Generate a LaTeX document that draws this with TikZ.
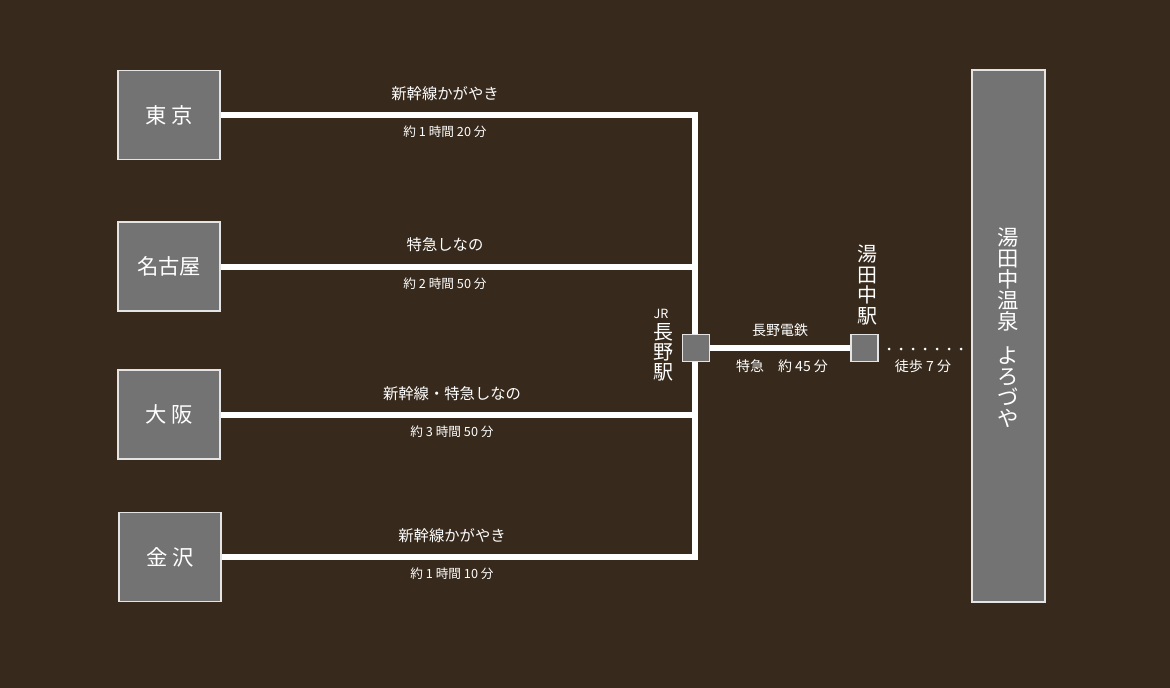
\documentclass[tikz,border=0pt]{standalone}
\usepackage{fontspec}
\setmainfont{Noto Sans CJK JP}
\usepackage{xcolor}
\usepackage{tikz}

\definecolor{bgbrown}{RGB}{55,42,28}
\definecolor{boxgray}{RGB}{115,115,115}
\definecolor{edgegray}{RGB}{228,228,228}

\begin{document}
\begin{tikzpicture}[x=0.75pt,y=0.75pt,yscale=-1,xscale=1,
  citybox/.style={draw=edgegray,line width=1pt,fill=boxgray,minimum width=76.5pt,minimum height=66.75pt,inner sep=0pt,text=white,font=\fontsize{16}{16}\selectfont},
  stopbox/.style={draw=edgegray,line width=1pt,fill=boxgray,minimum width=20.25pt,minimum height=20.25pt,inner sep=0pt},
  rail/.style={draw=white,line width=4.5pt},
  routetxt/.style={inner sep=0.75pt,text=white,font=\fontsize{11.5}{11.5}\selectfont},
  timetxt/.style={inner sep=0.75pt,text=white,font=\fontsize{9.5}{9.5}\selectfont},
  vlabel/.style={inner sep=0.75pt,text=white,align=center}]
\fill[bgbrown] (0,0) rectangle (1170,688);
\useasboundingbox (0,0) rectangle (1170,688);
% departure cities
\node[citybox] (tokyo) at (169,115) {東 京};
\node[citybox] (nagoya) at (169,266.5) {名古屋};
\node[citybox] (osaka) at (169,414.5) {大 阪};
\node[citybox] (kanazawa) at (170,557) {金 沢};
\coordinate (jtop) at (695,115);
\coordinate (jbot) at (695,557);
\draw[rail] (tokyo.east) -- (jtop) -- (jbot) -- (kanazawa.east);
\draw[rail] (nagoya.east) -- (nagoya.east -| jtop);
\draw[rail] (osaka.east) -- (osaka.east -| jtop);
% stations
\node[stopbox] (nagano) at (696,348) {};
\node[stopbox] (yudanaka) at (864.5,348) {};
\node[draw=edgegray,line width=1pt,fill=boxgray,minimum width=54.75pt,minimum height=399pt,inner sep=0pt] (onsen) at (1008.5,336) {};
\draw[rail] (nagano.east) -- (yudanaka.west);
\foreach \i in {0,...,6} \fill[white] (889+12*\i,349) circle (1.5);
% labels
\node[routetxt] (r1) at (445,94) {新幹線かがやき};
\node[timetxt] (m1) at (445,132) {約 1 時間 20 分};
\node[routetxt] (r2) at (445,245) {特急しなの};
\node[timetxt] (m2) at (445,284) {約 2 時間 50 分};
\node[routetxt] (r3) at (452,394) {新幹線・特急しなの};
\node[timetxt] (m3) at (452,432) {約 3 時間 50 分};
\node[routetxt] (r4) at (452,536) {新幹線かがやき};
\node[timetxt] (m4) at (452,574) {約 1 時間 10 分};
\node[inner sep=0.75pt,text=white,font=\fontsize{9.5}{9.5}\selectfont] (jr) at (661,314) {JR};
\node[vlabel,font=\fontsize{15}{15}\selectfont] (naganolbl) at (663,352) {長\\野\\駅};
\node[vlabel,font=\fontsize{15}{15.5}\selectfont] (yudanakalbl) at (867,285) {湯\\田\\中\\駅};
\node[routetxt,font=\fontsize{10.5}{10.5}\selectfont] (r5) at (780,330) {長野電鉄};
\node[timetxt,font=\fontsize{10.5}{10.5}\selectfont] (m5) at (782,366) {特急　約 45 分};
\node[timetxt,font=\fontsize{10.5}{10.5}\selectfont] (m6) at (923,366) {徒歩 7 分};
\node[vlabel,font=\fontsize{16}{15.75}\selectfont] (onsenlbl) at (1008,328) {湯\\田\\中\\温\\泉\\[10pt]よ\\ろ\\づ\\や};
\end{tikzpicture}
\end{document}
